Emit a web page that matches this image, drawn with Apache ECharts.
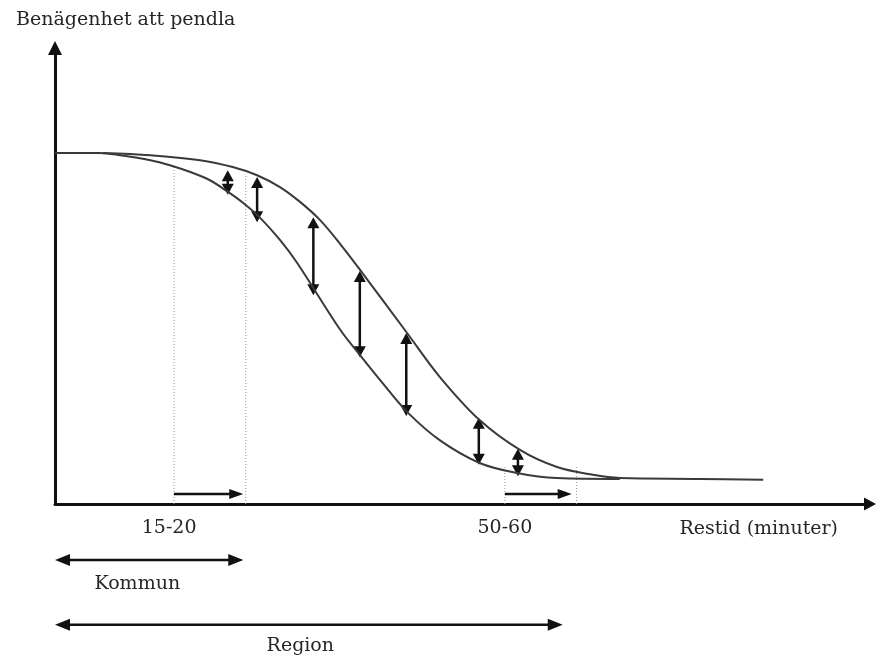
<!DOCTYPE html>
<html>
<head>
<meta charset="utf-8">
<script src="https://cdn.jsdelivr.net/npm/echarts@6/dist/echarts.min.js"></script>
<style>
html,body{margin:0;padding:0;background:#fff;}
#chart{width:878px;height:663px;}
</style>
</head>
<body>
<div id="chart"></div>
<script>
// ---- data (abstract units: x 0..100, y 0..100) ----
const yTitle = 'Benägenhet att pendla';
const xTitle = 'Restid (minuter)';

const upperX = [5.9, 11.7, 17.8, 21.8, 24.8, 27.6, 30.1, 32.5, 35.0, 37.7, 43.2, 47.2, 52.1, 57.1, 61.6, 66.0, 69.3, 79.1, 86.9];
const upperY = [77.0, 76.5, 75.4, 73.9, 72.1, 69.5, 66.2, 62.3, 57.0, 50.7, 37.5, 27.9, 18.4, 11.8, 8.1, 6.4, 5.7, 5.5, 5.3];

const lowerX = [0, 5.5, 8.0, 11.7, 14.1, 16.6, 19.0, 21.1, 23.1, 25.2, 27.6, 29.7, 35.0, 37.4, 40.2, 43.2, 47.2, 52.1, 56.7, 61.6, 69.3];
const lowerY = [77.0, 77.0, 76.5, 75.4, 74.3, 72.8, 71.0, 68.6, 66.0, 62.7, 57.9, 52.9, 38.2, 32.7, 26.5, 20.2, 14.0, 9.0, 6.8, 5.7, 5.5];

// vertical double arrows between curves
const gapX      = [21.2, 24.8, 31.7, 37.4, 43.1, 52.0, 56.8];
const gapTop    = [73.2, 71.7, 62.9, 51.1, 37.5, 18.9, 12.1];
const gapBottom = [67.8, 61.8, 45.8, 32.2, 19.3, 8.6, 6.1];

// dotted guide lines
const guideX   = [14.6, 23.4, 55.2, 64.0];
const guideTop = [74.3, 72.4, 8.1, 8.1];

// horizontal shift arrows just above the x axis
const shiftFrom = [14.6, 55.2];
const shiftTo   = [23.1, 63.4];
const shiftY    = [2.2, 2.2];

// range arrows below the axis
const rangeNames  = ['Kommun', 'Region'];
const rangeStart  = [0, 0];
const rangeEnd    = [23.1, 62.3];
const rangeY      = [-12.3, -26.5];
const rangeLabelX = [10.1, 30.1];
const rangeLabelY = [-17.5, -31.2];

// x tick labels
const tickValues = [14.0, 55.2];
const tickLabels = ['15-20', '50-60'];

// ---- styles ----
const FONT = '"DejaVu Serif", "Liberation Serif", serif';
const TXT = '#262626';
const INK = '#111';

const chart = echarts.init(document.getElementById('chart'));

function zip(xs, ys) { return xs.map((x, i) => [x, ys[i]]); }

function tri(tip, dir, L, W) {
  const bx = tip[0] - dir[0] * L, by = tip[1] - dir[1] * L;
  const px = -dir[1] * W / 2, py = dir[0] * W / 2;
  return { type: 'polygon', shape: { points: [[tip[0], tip[1]], [bx + px, by + py], [bx - px, by - py]] }, style: { fill: INK } };
}

function arrowGroup(p1, p2, L, W, both, lw) {
  const dx = p2[0] - p1[0], dy = p2[1] - p1[1];
  const len = Math.sqrt(dx * dx + dy * dy);
  const u = [dx / len, dy / len];
  const s1 = both ? [p1[0] + u[0] * (L - 1), p1[1] + u[1] * (L - 1)] : p1;
  const s2 = [p2[0] - u[0] * (L - 1), p2[1] - u[1] * (L - 1)];
  const children = [{ type: 'line', shape: { x1: s1[0], y1: s1[1], x2: s2[0], y2: s2[1] }, style: { stroke: INK, lineWidth: lw } }];
  children.push(tri(p2, u, L, W));
  if (both) children.push(tri(p1, [-u[0], -u[1]], L, W));
  return { type: 'group', children: children };
}

const option = {
  animation: false,
  backgroundColor: '#fff',
  title: {
    text: yTitle, left: 11, top: 6,
    textStyle: { fontFamily: FONT, fontSize: 19, fontWeight: 'normal', color: TXT }
  },
  grid: { left: 55, right: 8, top: 48, bottom: 159, containLabel: false },
  xAxis: {
    type: 'value', min: 0, max: 100,
    name: xTitle, nameLocation: 'end', nameGap: -32,
    nameTextStyle: { fontFamily: FONT, fontSize: 19, color: TXT, align: 'right', verticalAlign: 'top', padding: [16, 0, 0, 0] },
    axisLine: { show: true, onZero: false, symbol: ['none', 'triangle'], symbolSize: [13, 12], lineStyle: { color: INK, width: 3 } },
    axisTick: { show: false },
    splitLine: { show: false },
    axisLabel: { show: false }
  },
  yAxis: {
    type: 'value', min: 0, max: 100,
    axisLine: { show: true, onZero: false, symbol: ['none', 'triangle'], symbolSize: [14, 14], lineStyle: { color: INK, width: 3 } },
    axisTick: { show: false },
    splitLine: { show: false },
    axisLabel: { show: false }
  },
  series: [
    {
      type: 'custom', name: 'guides', clip: false, silent: true,
      data: zip(guideX, guideTop),
      renderItem: function (params, api) {
        const a = api.coord([api.value(0), 0]);
        const b = api.coord([api.value(0), api.value(1)]);
        return { type: 'line', shape: { x1: a[0], y1: a[1], x2: b[0], y2: b[1] }, style: { stroke: '#9a9a9a', lineWidth: 1, lineDash: [1, 2] } };
      }
    },
    {
      type: 'line', name: 'upper', data: zip(upperX, upperY),
      smooth: 0.35, showSymbol: false, symbol: 'none',
      lineStyle: { color: '#3a3a3a', width: 2 }
    },
    {
      type: 'line', name: 'lower', data: zip(lowerX, lowerY),
      smooth: 0.35, showSymbol: false, symbol: 'none',
      lineStyle: { color: '#3a3a3a', width: 2 }
    },
    {
      type: 'custom', name: 'gaps', clip: false, silent: true,
      data: gapX.map((x, i) => [x, gapTop[i], gapBottom[i]]),
      renderItem: function (params, api) {
        const a = api.coord([api.value(0), api.value(1)]);
        const b = api.coord([api.value(0), api.value(2)]);
        return arrowGroup(a, b, 11, 12, true, 2.5);
      }
    },
    {
      type: 'custom', name: 'shifts', clip: false, silent: true,
      data: shiftFrom.map((x, i) => [x, shiftTo[i], shiftY[i]]),
      renderItem: function (params, api) {
        const a = api.coord([api.value(0), api.value(2)]);
        const b = api.coord([api.value(1), api.value(2)]);
        return arrowGroup(a, b, 14, 10, false, 2.5);
      }
    },
    {
      type: 'custom', name: 'ticks', clip: false, silent: true,
      data: tickValues.map((v) => [v, 0]),
      renderItem: function (params, api) {
        const p = api.coord([api.value(0), 0]);
        return { type: 'text', x: p[0], y: p[1] + 24, style: { text: tickLabels[params.dataIndex], fontFamily: FONT, fontSize: 19, fill: TXT, align: 'center', verticalAlign: 'middle' } };
      }
    },
    {
      type: 'custom', name: 'ranges', clip: false, silent: true,
      data: rangeNames.map((n, i) => [rangeStart[i], rangeEnd[i], rangeY[i], rangeLabelX[i], rangeLabelY[i]]),
      renderItem: function (params, api) {
        const a = api.coord([api.value(0), api.value(2)]);
        const b = api.coord([api.value(1), api.value(2)]);
        const t = api.coord([api.value(3), api.value(4)]);
        const g = arrowGroup(a, b, 15, 12, true, 2.5);
        g.children.push({ type: 'text', x: t[0], y: t[1], style: { text: rangeNames[params.dataIndex], fontFamily: FONT, fontSize: 19, fill: TXT, align: 'center', verticalAlign: 'middle' } });
        return g;
      }
    }
  ]
};
chart.setOption(option);
</script>
</body>
</html>
